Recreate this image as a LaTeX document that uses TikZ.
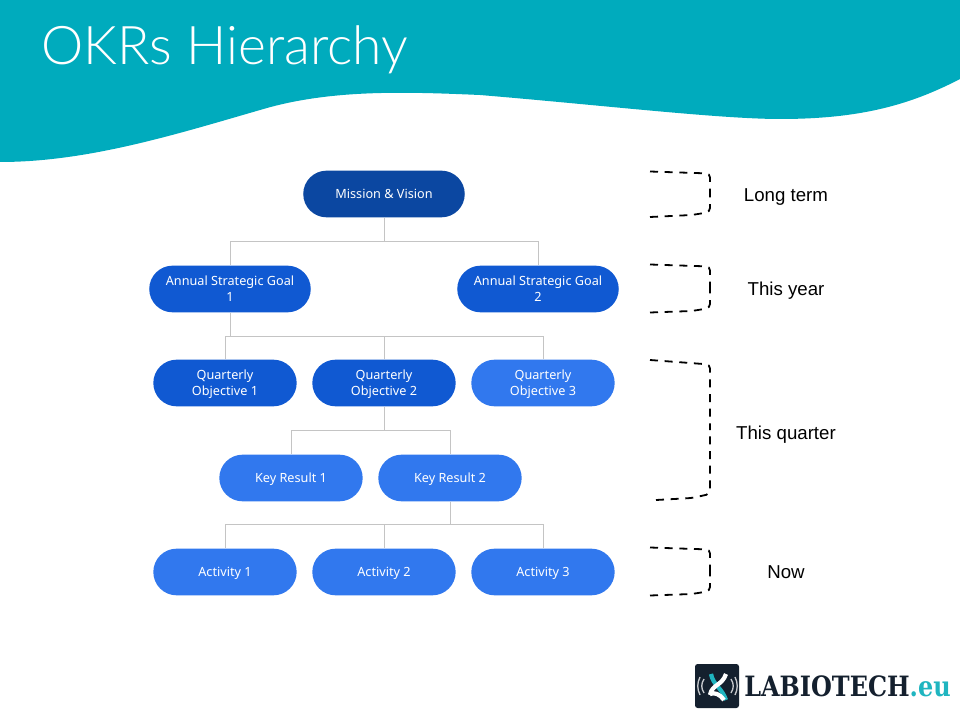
\documentclass[tikz,border=0pt]{standalone}
\usepackage{fontspec}
\usetikzlibrary{shapes.misc}
\setmainfont{Noto Sans}
\newfontfamily\titlefont{Lato Light}
\newfontfamily\sidefont{Liberation Sans}
\newfontfamily\logofont{DejaVu Serif}[FakeStretch=0.855]
\definecolor{headteal}{HTML}{00ABBD}
\definecolor{darkblue}{HTML}{0B47A1}
\definecolor{midblue}{HTML}{1059D2}
\definecolor{lightblue}{HTML}{3178EE}
\definecolor{linegray}{HTML}{C4C4C4}
\definecolor{logodark}{HTML}{14202E}
\definecolor{logoteal}{HTML}{1FB5C0}
\tikzset{
  pill/.style={rounded rectangle,draw=none,text=white,minimum height=35pt,text depth=-1.5pt,align=center,font=\fontsize{9.5}{12}\selectfont},
  widepill/.style={pill,minimum width=127.8pt},
  narrowpill/.style={pill,minimum width=114.2pt},
  link/.style={draw=linegray,line width=0.6pt},
  bracket/.style={dash pattern=on 6pt off 5pt,line width=1.35pt,rounded corners=3pt},
  sidelabel/.style={font=\sidefont\fontsize{14}{16}\selectfont,text=black}
}
\begin{document}
\begin{tikzpicture}[x=0.75pt,y=-0.75pt]
\useasboundingbox (0,0) rectangle (960,720);
\fill[white] (0,0) rectangle (960,720);
% header
\fill[headteal] (0,0) -- (960,0) -- (960,79) .. controls (910,105) and (860,119) .. (780,119)
  .. controls (720,119) and (600,105) .. (480,95) .. controls (410,92) and (335,89) .. (267,108)
  .. controls (180,133) and (90,162) .. (0,162) -- cycle;
\node[text=white,anchor=west,inner sep=0pt,font=\titlefont\fontsize{40}{44}\selectfont] (title) at (41,50) {OKRs Hierarchy};
% nodes
\node[widepill,fill=darkblue] (mission) at (384,194) {Mission \& Vision};
\node[widepill,fill=midblue] (goala) at (230,289) {Annual Strategic Goal\\1};
\node[widepill,fill=midblue] (goalb) at (538,289) {Annual Strategic Goal\\2};
\node[narrowpill,fill=midblue] (obja) at (225,383) {Quarterly\\Objective 1};
\node[narrowpill,fill=midblue] (objb) at (384,383) {Quarterly\\Objective 2};
\node[narrowpill,fill=lightblue] (objc) at (543,383) {Quarterly\\Objective 3};
\node[narrowpill,fill=lightblue] (kra) at (291,478) {Key Result 1};
\node[narrowpill,fill=lightblue] (krb) at (450,478) {Key Result 2};
\node[narrowpill,fill=lightblue] (acta) at (225,572) {Activity 1};
\node[narrowpill,fill=lightblue] (actb) at (384,572) {Activity 2};
\node[narrowpill,fill=lightblue] (actc) at (543,572) {Activity 3};
% links
\draw[link] (mission.south) |- (384,241) -| (goala.north);
\draw[link] (mission.south) |- (384,241) -| (goalb.north);
\draw[link] (goala.south) |- (230,336) -| (obja.north);
\draw[link] (goala.south) |- (230,336) -| (objb.north);
\draw[link] (goala.south) |- (230,336) -| (objc.north);
\draw[link] (objb.south) |- (384,430) -| (kra.north);
\draw[link] (objb.south) |- (384,430) -| (krb.north);
\draw[link] (krb.south) |- (450,524) -| (acta.north);
\draw[link] (krb.south) |- (450,524) -| (actb.north);
\draw[link] (krb.south) |- (450,524) -| (actc.north);
% brackets
\draw[bracket] (650,171.5) -- (710,173.5) -- (710,194);
\draw[bracket] (650,217) -- (692,215) -- (710,212) -- (710,194);
\draw[bracket] (650,264.5) -- (710,266.5) -- (710,289);
\draw[bracket] (650,312.5) -- (692,311) -- (710,308) -- (710,289);
\draw[bracket] (650,360) -- (710,364.5) -- (710,430);
\draw[bracket] (656,500) -- (692,498) -- (710,494) -- (710,430);
\draw[bracket] (650,547.5) -- (710,549.5) -- (710,572);
\draw[bracket] (650,595.5) -- (692,594) -- (710,591) -- (710,572);
\node[sidelabel] (longterm) at (786,197) {Long term};
\node[sidelabel] (thisyear) at (786,291) {This year};
\node[sidelabel] (thisquarter) at (786,435) {This quarter};
\node[sidelabel] (now) at (786,572) {Now};
% logo
\fill[logodark,rounded corners=2pt] (695,664) rectangle (739,708);
\draw[logoteal,line width=3.2pt] (711,674) .. controls (713,685) and (722,688) .. (726,700);
\draw[white,line width=3.2pt] (726,674) .. controls (722,686) and (712,684) .. (710,695);
\draw[white,line width=3.2pt] (710,694) .. controls (714,692) and (720,694) .. (724,700);
\draw[white!75!logodark,line width=1pt] (704,679) .. controls (701,684) and (701,688) .. (704,693);
\draw[white!75!logodark,line width=1pt] (700,677) .. controls (697,683) and (697,689) .. (700,695);
\draw[white!75!logodark,line width=1pt] (731,679) .. controls (734,684) and (734,688) .. (731,693);
\draw[white!75!logodark,line width=1pt] (735,677) .. controls (738,683) and (738,689) .. (735,695);
\node[anchor=west,inner sep=0pt,text=logodark,font=\logofont\bfseries\fontsize{21}{24}\selectfont] (logotext) at (744,686) {LABIOTECH\textcolor{logoteal}{.eu}};
\end{tikzpicture}
\end{document}
